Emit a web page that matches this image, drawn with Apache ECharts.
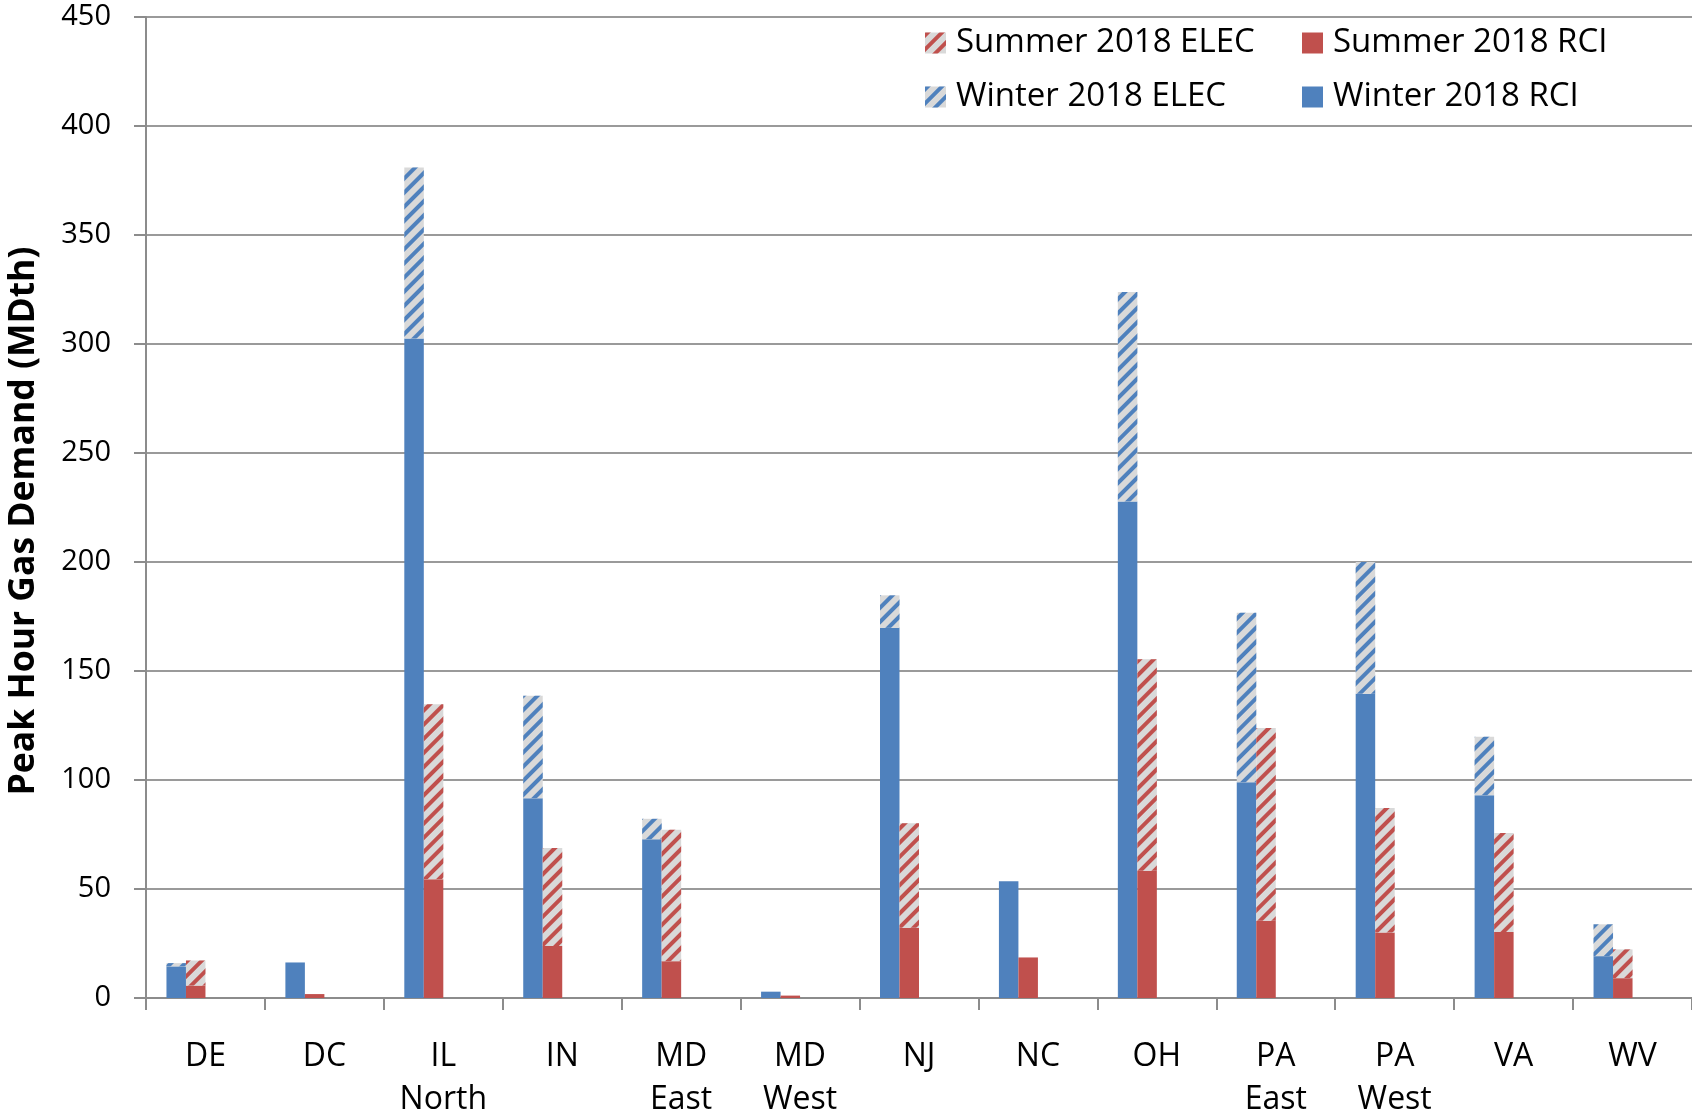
<!DOCTYPE html>
<html>
<head>
<meta charset="utf-8">
<script src="https://cdn.jsdelivr.net/npm/echarts@6/dist/echarts.min.js"></script>
<style>
html,body{margin:0;padding:0;background:#fff;}
#chart{width:1692px;height:1112px;}
</style>
</head>
<body>
<div id="chart"></div>
<script>
var categories = ['DE', 'DC', 'IL\nNorth', 'IN', 'MD\nEast', 'MD\nWest', 'NJ', 'NC', 'OH', 'PA\nEast', 'PA\nWest', 'VA', 'WV'];
var winterRCI  = [14.5, 16.3, 302.5, 91.6, 72.8, 2.9, 169.8, 53.5, 227.7, 99.0, 139.6, 93.0, 19.2];
var winterELEC = [1.5, 0, 78.5, 47.0, 9.4, 0, 14.9, 0, 96.1, 77.7, 60.4, 26.8, 14.6];
var summerRCI  = [5.7, 1.8, 54.5, 23.8, 16.9, 1.1, 32.2, 18.6, 58.4, 35.4, 30.0, 30.3, 9.1];
var summerELEC = [11.5, 0, 80.2, 45.0, 60.3, 0, 48.0, 0, 97.0, 88.4, 57.1, 45.4, 13.2];
var yTicks = [0, 50, 100, 150, 200, 250, 300, 350, 400, 450];
var yTitle = 'Peak Hour Gas Demand (MDth)';

var BLUE = '#4f81bd', RED = '#c0504d', HATCH_BG = '#d9d9d9';
function hatch(c) {
  return { symbol: 'rect', symbolSize: 1, color: c, dashArrayX: [1, 0], dashArrayY: [4, 6], rotation: -Math.PI / 4 };
}
var chart = echarts.init(document.getElementById('chart'));
var font = 'Open Sans';
var barW = 19.5;
var legendText = { fontFamily: font, fontSize: 33, color: '#000', lineHeight: 36, padding: [0, 0, 0, 5] };
chart.setOption({
  backgroundColor: '#fff',
  animation: false,
  grid: { left: 146, right: 0, top: 17, bottom: 114, outerBoundsMode: 'none', containLabel: false },
  graphic: [{
    type: 'text', x: 24, y: 521, rotation: Math.PI / 2,
    style: { text: yTitle, fontFamily: font, fontSize: 35.5, fontWeight: 'bold', fill: '#000',
      align: 'center', verticalAlign: 'middle' }
  }],
  legend: [
    { orient: 'vertical', left: 920, top: 20, itemWidth: 21, itemHeight: 21, itemGap: 18,
      icon: 'rect', textStyle: legendText,
      data: ['Summer 2018 ELEC', 'Winter 2018 ELEC'] },
    { orient: 'vertical', left: 1297, top: 20, itemWidth: 21, itemHeight: 21, itemGap: 18,
      icon: 'rect', textStyle: legendText,
      data: ['Summer 2018 RCI', 'Winter 2018 RCI'] }
  ],
  xAxis: {
    type: 'category', data: categories,
    axisLine: { lineStyle: { color: '#8c8c8c', width: 2 } },
    axisTick: { show: true, length: 12, lineStyle: { color: '#8c8c8c', width: 2 } },
    axisLabel: { fontFamily: font, fontSize: 32, color: '#000', margin: 37, lineHeight: 43 }
  },
  yAxis: {
    type: 'value', min: 0, max: 450, interval: 50,
    axisLine: { show: true, lineStyle: { color: '#8c8c8c', width: 2 } },
    axisTick: { show: true, length: 12, lineStyle: { color: '#8c8c8c', width: 2 } },
    splitLine: { lineStyle: { color: '#9a9a9a', width: 2 } },
    axisLabel: { fontFamily: font, fontSize: 29, color: '#000', margin: 35,
      formatter: function (v) { return yTicks.indexOf(v) >= 0 ? String(v) : ''; } }
  },
  series: [
    { name: 'Winter 2018 RCI', type: 'bar', stack: 'w', data: winterRCI, barWidth: barW, barGap: '0%',
      itemStyle: { color: BLUE } },
    { name: 'Winter 2018 ELEC', type: 'bar', stack: 'w', data: winterELEC, barWidth: barW,
      itemStyle: { color: HATCH_BG, decal: hatch(BLUE) } },
    { name: 'Summer 2018 RCI', type: 'bar', stack: 's', data: summerRCI, barWidth: barW,
      itemStyle: { color: RED } },
    { name: 'Summer 2018 ELEC', type: 'bar', stack: 's', data: summerELEC, barWidth: barW,
      itemStyle: { color: HATCH_BG, decal: hatch(RED) } },
    { name: 'pad1', type: 'bar', stack: 'p1', data: [], barWidth: barW },
    { name: 'pad2', type: 'bar', stack: 'p2', data: [], barWidth: barW }
  ]
});
</script>
</body>
</html>
